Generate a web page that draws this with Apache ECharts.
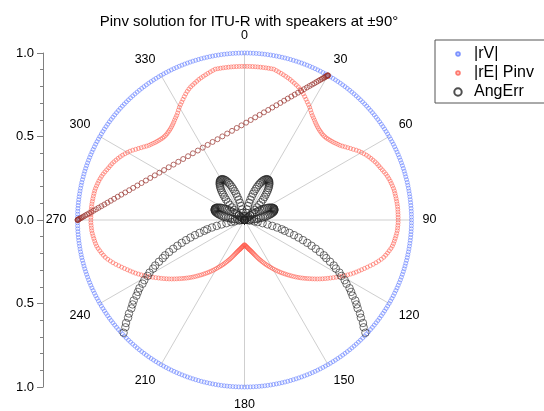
<!DOCTYPE html>
<html><head><meta charset="utf-8">
<script src="https://cdn.jsdelivr.net/npm/echarts/dist/echarts.min.js"></script>
<style>html,body{margin:0;padding:0;background:#fff}#c{width:544px;height:411px}</style>
</head><body><div id="c"></div>
<script>
const FONT = '"Liberation Sans", Arial, Helvetica, sans-serif';
const TITLE = 'Pinv solution for ITU-R with speakers at \u00b190\u00b0';
const seriesNames = ['|rV|', '|rE| Pinv', 'AngErr'];
const angleTickStep = 30;
const radiusTicks = [-1, -0.5, 0, 0.5, 1];

// sampling angles (deg), one per degree
const angleDeg = [];
for (let a = 0; a < 360; a++) angleDeg.push(a);

// |rV| radius per degree
const rV = [
1,1,1,1,1,1,1,1,1,1, 1,1,1,1,1,1,1,1,1,1, 1,1,1,1,1,1,1,1,1,1, 1,1,1,1,1,1,1,1,1,1,
1,1,1,1,1,1,1,1,1,1, 1,1,1,1,1,1,1,1,1,1, 1,1,1,1,1,1,1,1,1,1, 1,1,1,1,1,1,1,1,1,1,
1,1,1,1,1,1,1,1,1,1, 1,1,1,1,1,1,1,1,1,1, 1,1,1,1,1,1,1,1,1,1, 1,1,1,1,1,1,1,1,1,1,
1,1,1,1,1,1,1,1,1,1, 1,1,1,1,1,1,1,1,1,1, 1,1,1,1,1,1,1,1,1,1, 1,1,1,1,1,1,1,1,1,1,
1,1,1,1,1,1,1,1,1,1, 1,1,1,1,1,1,1,1,1,1, 1,1,1,1,1,1,1,1,1,1, 1,1,1,1,1,1,1,1,1,1,
1,1,1,1,1,1,1,1,1,1, 1,1,1,1,1,1,1,1,1,1, 1,1,1,1,1,1,1,1,1,1, 1,1,1,1,1,1,1,1,1,1,
1,1,1,1,1,1,1,1,1,1, 1,1,1,1,1,1,1,1,1,1, 1,1,1,1,1,1,1,1,1,1, 1,1,1,1,1,1,1,1,1,1,
1,1,1,1,1,1,1,1,1,1, 1,1,1,1,1,1,1,1,1,1, 1,1,1,1,1,1,1,1,1,1, 1,1,1,1,1,1,1,1,1,1,
1,1,1,1,1,1,1,1,1,1, 1,1,1,1,1,1,1,1,1,1, 1,1,1,1,1,1,1,1,1,1, 1,1,1,1,1,1,1,1,1,1
];

// |rE| Pinv radius per degree
const rE = [
.92,.92,.92,.92,.92,.92,.92,.92,.92,.92,
.92,.92,.915,.91,.905,.90,.895,.89,.885,.878,
.872,.866,.86,.852,.843,.833,.822,.811,.80,.79,
.78,.768,.756,.746,.738,.73,.722,.715,.709,.704,
.70,.697,.694,.693,.693,.694,.697,.70,.704,.708,
.714,.72,.726,.735,.745,.755,.766,.777,.789,.80,
.809,.818,.827,.835,.842,.849,.856,.862,.867,.872,
.878,.884,.89,.895,.899,.903,.906,.909,.912,.914,
.915,.916,.917,.918,.919,.92,.92,.92,.92,.92,
.92,.92,.919,.918,.917,.915,.912,.909,.906,.903,
.899,.893,.886,.879,.871,.863,.852,.84,.828,.815,
.801,.788,.775,.762,.75,.738,.726,.713,.70,.687,
.673,.66,.647,.634,.621,.609,.597,.585,.573,.561,
.549,.537,.525,.514,.503,.492,.481,.47,.459,.448,
.437,.426,.416,.405,.395,.385,.375,.365,.355,.345,
.335,.325,.316,.307,.298,.289,.28,.271,.262,.254,
.246,.238,.23,.222,.215,.208,.202,.196,.191,.186,
.182,.178,.174,.17,.166,.163,.16,.157,.154,.151,
.148,.151,.154,.157,.16,.163,.166,.17,.174,.178,
.182,.186,.191,.196,.202,.208,.215,.222,.23,.238,
.246,.254,.262,.271,.28,.289,.298,.307,.316,.325,
.335,.345,.355,.365,.375,.385,.395,.405,.416,.426,
.437,.448,.459,.47,.481,.492,.503,.514,.525,.537,
.549,.561,.573,.585,.597,.609,.621,.634,.647,.66,
.673,.687,.70,.713,.726,.738,.75,.762,.775,.788,
.801,.815,.828,.84,.852,.863,.871,.879,.886,.893,
.899,.903,.906,.909,.912,.915,.917,.918,.919,.92,
.92,.92,.92,.92,.92,.92,.919,.918,.917,.916,
.915,.914,.912,.909,.906,.903,.899,.895,.89,.884,
.878,.872,.867,.862,.856,.849,.842,.835,.827,.818,
.809,.80,.789,.777,.766,.755,.745,.735,.726,.72,
.714,.708,.704,.70,.697,.694,.693,.693,.694,.697,
.70,.704,.709,.715,.722,.73,.738,.746,.756,.768,
.78,.79,.80,.811,.822,.833,.843,.852,.86,.866,
.872,.878,.885,.89,.895,.90,.905,.91,.915,.92,
.92,.92,.92,.92,.92,.92,.92,.92,.92,.92
];

// stray |rE| points along a chord (radius, angle)
const chordR = [
1.0,.999,.998,.995,.991,.986,.979,.972,.963,.954,
.944,.932,.919,.906,.892,.877,.861,.844,.827,.809,
.791,.772,.753,.733,.713,.694,.674,.655,.636,.618,
.600,.583,.567,.553,.539,.528,.518,.510,.505,.501,
.500,
.501,.505,.510,.518,.528,.539,.553,.567,.583,.600,
.618,.636,.655,.674,.694,.713,.733,.753,.772,.791,
.809,.827,.844,.861,.877,.892,.906,.919,.932,.944,
.954,.963,.972,.979,.986,.991,.995,.998,.999,1.0
];
const chordT = [
270.0,270.02,270.08,270.17,270.31,270.49,270.70,270.96,271.26,271.61,
272.0,272.45,272.94,273.50,274.10,274.78,275.52,276.32,277.21,278.18,
279.23,280.39,281.64,283.0,284.49,286.10,287.85,289.76,291.82,294.05,
296.46,299.06,301.84,304.82,307.98,311.33,314.84,318.49,322.26,326.11,
330.0,
333.89,337.74,341.51,345.16,348.67,352.02,355.18,358.16,0.94,3.54,
5.95,8.18,10.24,12.15,13.90,15.51,17.0,18.36,19.61,20.77,
21.82,22.79,23.68,24.48,25.22,25.90,26.50,27.06,27.55,28.0,
28.39,28.74,29.04,29.30,29.51,29.69,29.83,29.92,29.98,30.0
];

// AngErr radius per degree (null = off scale, not drawn)
const N = null;
const angErr = [
0,0,0,0,0,0,0,0,0,0,
0,.022,.044,.065,.087,.107,.127,.146,.165,.182,
.198,.213,.227,.239,.249,.259,.266,.272,.277,.279,
.28,.279,.277,.272,.266,.259,.249,.239,.227,.213,
.198,.182,.165,.146,.127,.107,.087,.065,.044,.022,
0,.015,.03,.044,.059,.073,.086,.099,.112,.123,
.134,.144,.154,.162,.169,.176,.181,.185,.188,.189,
.19,.189,.188,.185,.181,.176,.169,.162,.154,.144,
.134,.123,.112,.099,.086,.073,.059,.044,.03,.015,
0,0,0,0,0,0,0,.03,.06,.08,
.11,.14,.17,.20,.23,.25,.28,.31,.34,.37,
.40,.43,.46,.49,.52,.54,.57,.60,.62,.65,
.67,.70,.72,.75,.77,.79,.82,.84,.86,.89,
.91,.94,.96,.99,1.01,N,N,N,N,N,
N,N,N,N,N,N,N,N,N,N,
N,N,N,N,N,N,N,N,N,N,
N,N,N,N,N,N,N,N,N,N,
N,N,N,N,N,N,N,N,N,N,
N,N,N,N,N,N,N,N,N,N,
N,N,N,N,N,N,N,N,N,N,
N,N,N,N,N,N,N,N,N,N,
N,N,N,N,N,N,N,N,N,N,
N,N,N,N,N,N,1.01,.99,.96,.94,
.91,.89,.86,.84,.82,.79,.77,.75,.72,.70,
.67,.65,.62,.60,.57,.54,.52,.49,.46,.43,
.40,.37,.34,.31,.28,.25,.23,.20,.17,.14,
.11,.08,.06,.03,0,0,0,0,0,0,
0,.015,.03,.044,.059,.073,.086,.099,.112,.123,
.134,.144,.154,.162,.169,.176,.181,.185,.188,.189,
.19,.189,.188,.185,.181,.176,.169,.162,.154,.144,
.134,.123,.112,.099,.086,.073,.059,.044,.03,.015,
0,.022,.044,.065,.087,.107,.127,.146,.165,.182,
.198,.213,.227,.239,.249,.259,.266,.272,.277,.279,
.28,.279,.277,.272,.266,.259,.249,.239,.227,.213,
.198,.182,.165,.146,.127,.107,.087,.065,.044,.022,
0,0,0,0,0,0,0,0,0,0
];

const dataV = angleDeg.map((a, i) => [rV[i], a]);
const dataE = angleDeg.map((a, i) => [rE[i], a]);
const dataChord = chordR.map((r, i) => [r, chordT[i]]);
const dataErr = [];
angleDeg.forEach((a, i) => { if (angErr[i] !== null) dataErr.push([angErr[i], a]); });

const smallIcon = 'path://M0,0M10,10M3.2,5a1.8,1.8 0 1,0 3.6,0a1.8,1.8 0 1,0 -3.6,0';
const bigIcon = 'path://M0,0M10,10M1.3,5a3.7,3.7 0 1,0 7.4,0a3.7,3.7 0 1,0 -7.4,0';

const chart = echarts.init(document.getElementById('c'), null, {renderer: 'canvas'});
chart.setOption({
  animation: false,
  backgroundColor: '#fff',
  textStyle: {fontFamily: FONT},
  title: {
    text: TITLE, left: 244, top: 9, textAlign: 'center',
    textStyle: {fontSize: 15, fontWeight: 'normal', color: '#000', fontFamily: FONT}
  },
  legend: {
    orient: 'vertical', left: 435, top: 40,
    padding: [6, 60, 3, 17], itemGap: 3, itemWidth: 10, itemHeight: 10,
    borderColor: '#555', borderWidth: 1, selectedMode: false,
    textStyle: {fontSize: 16, color: '#000', fontFamily: FONT, padding: [0, 0, 0, 6]},
    data: [
      {name: seriesNames[0], icon: smallIcon},
      {name: seriesNames[1], icon: smallIcon},
      {name: seriesNames[2], icon: bigIcon}
    ]
  },
  polar: {center: [244.5, 220], radius: 167},
  angleAxis: {
    type: 'value', min: 0, max: 360, interval: angleTickStep,
    startAngle: 90, clockwise: true,
    axisLine: {show: false}, axisTick: {show: false},
    axisLabel: {margin: 11, fontSize: 12.5, color: '#000', fontFamily: FONT,
      formatter: v => (v >= 360 ? '' : String(v))},
    splitLine: {show: true, lineStyle: {color: '#cfcfcf', width: 1}}
  },
  radiusAxis: {
    type: 'value', min: 0, max: 1,
    axisLine: {show: false}, axisTick: {show: false}, axisLabel: {show: false},
    splitLine: {show: false}
  },
  grid: {left: 43, top: 53, width: 10, height: 334, containLabel: false, outerBoundsMode: 'none', show: false},
  xAxis: {type: 'value', min: 0, max: 1, show: false, gridIndex: 0},
  yAxis: {
    type: 'value', gridIndex: 0, min: radiusTicks[0], max: radiusTicks[radiusTicks.length - 1], interval: 0.5,
    position: 'left',
    axisLine: {show: true, lineStyle: {color: '#808080', width: 1}},
    axisTick: {show: true, length: 6, lineStyle: {color: '#808080'}},
    minorTick: {show: true, splitNumber: 5, length: 3, lineStyle: {color: '#808080'}},
    axisLabel: {margin: 9, fontSize: 13, color: '#000', fontFamily: FONT,
      formatter: v => Math.abs(v).toFixed(1)},
    splitLine: {show: false}, minorSplitLine: {show: false}
  },
  series: [
    {name: seriesNames[0], type: 'scatter', coordinateSystem: 'polar', data: dataV,
      symbol: 'circle', symbolSize: 4, silent: true,
      itemStyle: {color: 'rgba(255,255,255,0)', borderColor: '#5c78ff', borderWidth: 0.7}},
    {name: seriesNames[1], type: 'scatter', coordinateSystem: 'polar', data: dataE,
      symbol: 'circle', symbolSize: 4, silent: true,
      itemStyle: {color: 'rgba(255,255,255,0)', borderColor: '#ff5a4c', borderWidth: 0.7}},
    {name: seriesNames[1], type: 'scatter', coordinateSystem: 'polar', data: dataChord,
      symbol: 'circle', symbolSize: 5, silent: true,
      itemStyle: {color: 'rgba(255,255,255,0)', borderColor: '#993530', borderWidth: 0.9}},
    {name: seriesNames[2], type: 'scatter', coordinateSystem: 'polar', data: dataErr,
      symbol: 'circle', symbolSize: 7.5, silent: true,
      itemStyle: {color: 'rgba(255,255,255,0)', borderColor: '#222', borderWidth: 0.8}}
  ]
});
</script>
</body></html>
